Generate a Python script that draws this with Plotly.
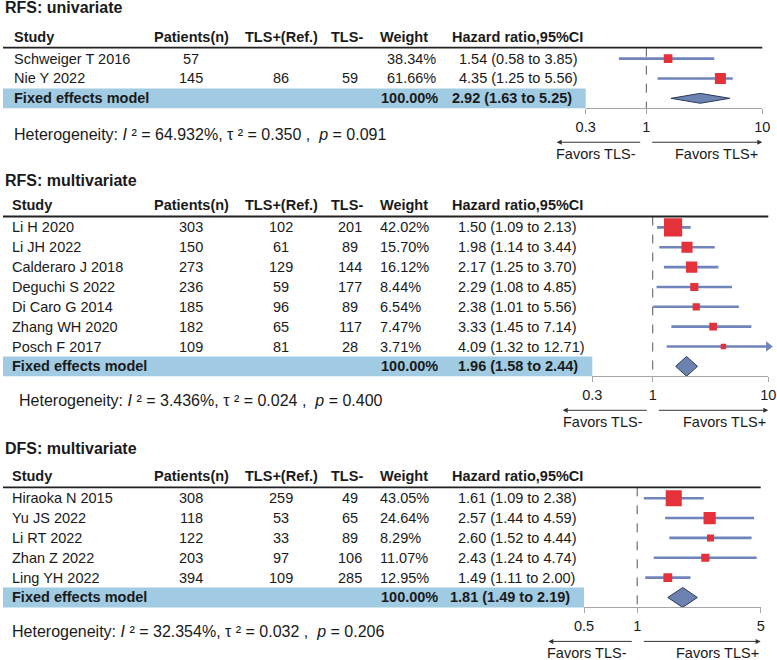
"""Forest plots of TLS and survival, three panels on one page."""

import math

import plotly.graph_objects as go

W, HGT = 777, 660
FONT = "Liberation Sans, Arial, sans-serif"
INK = "#1a1a1a"
BAND = "#a0cbe2"
SQUARE = "#e4313a"
CI_LINE = "#6f84ba"
DIAMOND = "#6c82b1"
AXIS_GREY = "#a6a6a6"
ROW_H = 19.85

# ---- RFS: univariate ----
UNI_STUDY = ["Schweiger T 2016", "Nie Y 2022"]
UNI_PATIENTS = ["57", "145"]
UNI_TLS_POS = ["", "86"]
UNI_TLS_NEG = ["", "59"]
UNI_WEIGHT = [38.34, 61.66]
UNI_HR = [1.54, 4.35]
UNI_LO = [0.58, 1.25]
UNI_HI = [3.85, 5.56]
UNI_FIXED = [2.92, 1.63, 5.25]
UNI_HET = ["64.932%", "0.350", "0.091"]
UNI_TICKS = [0.3, 1, 10]

# ---- RFS: multivariate ----
MULTI_STUDY = ["Li H 2020", "Li JH 2022", "Calderaro J 2018", "Deguchi S 2022",
               "Di Caro G 2014", "Zhang WH 2020", "Posch F 2017"]
MULTI_PATIENTS = ["303", "150", "273", "236", "185", "182", "109"]
MULTI_TLS_POS = ["102", "61", "129", "59", "96", "65", "81"]
MULTI_TLS_NEG = ["201", "89", "144", "177", "89", "117", "28"]
MULTI_WEIGHT = [42.02, 15.70, 16.12, 8.44, 6.54, 7.47, 3.71]
MULTI_HR = [1.50, 1.98, 2.17, 2.29, 2.38, 3.33, 4.09]
MULTI_LO = [1.09, 1.14, 1.25, 1.08, 1.01, 1.45, 1.32]
MULTI_HI = [2.13, 3.44, 3.70, 4.85, 5.56, 7.14, 12.71]
MULTI_FIXED = [1.96, 1.58, 2.44]
MULTI_HET = ["3.436%", "0.024", "0.400"]
MULTI_TICKS = [0.3, 1, 10]

# ---- DFS: multivariate ----
DFS_STUDY = ["Hiraoka N 2015", "Yu JS 2022", "Li RT 2022", "Zhan Z 2022", "Ling YH 2022"]
DFS_PATIENTS = ["308", "118", "122", "203", "394"]
DFS_TLS_POS = ["259", "53", "33", "97", "109"]
DFS_TLS_NEG = ["49", "65", "89", "106", "285"]
DFS_WEIGHT = [43.05, 24.64, 8.29, 11.07, 12.95]
DFS_HR = [1.61, 2.57, 2.60, 2.43, 1.49]
DFS_LO = [1.09, 1.44, 1.52, 1.24, 1.11]
DFS_HI = [2.38, 4.59, 4.44, 4.74, 2.00]
DFS_FIXED = [1.81, 1.49, 2.19]
DFS_HET = ["32.354%", "0.032", "0.206"]
DFS_TICKS = [0.5, 1, 5]

PANELS = [
    dict(title="RFS: univariate", study=UNI_STUDY, patients=UNI_PATIENTS,
         pos=UNI_TLS_POS, neg=UNI_TLS_NEG, weight=UNI_WEIGHT, hr=UNI_HR,
         lo=UNI_LO, hi=UNI_HI, fixed=UNI_FIXED, het=UNI_HET, ticks=UNI_TICKS,
         # layout
         title_y=7, header=47.7, x0=585.7, x1=762.3, sq=1.4, dh=0.25,
         study_x=11.5, weight_center=411, hr_x=457, hr_bold_x=450, het_x=11.7, het_dy=26.7,
         arrows=[556.7, 641.7, 650.7, 762.3], favors=[595.7, 716.7]),
    dict(title="RFS: multivariate", study=MULTI_STUDY, patients=MULTI_PATIENTS,
         pos=MULTI_TLS_POS, neg=MULTI_TLS_NEG, weight=MULTI_WEIGHT, hr=MULTI_HR,
         lo=MULTI_LO, hi=MULTI_HI, fixed=MULTI_FIXED, het=MULTI_HET, ticks=MULTI_TICKS,
         title_y=180.7, header=216.5, x0=592.3, x1=768.3, sq=2.8, dh=0.5,
         study_x=9.5, weight_center=None, hr_x=456, hr_bold_x=456, het_x=16.7, het_dy=24.7,
         arrows=[562.7, 648.3, 657.3, 768.3], favors=[603, 724]),
    dict(title="DFS: multivariate", study=DFS_STUDY, patients=DFS_PATIENTS,
         pos=DFS_TLS_POS, neg=DFS_TLS_NEG, weight=DFS_WEIGHT, hr=DFS_HR,
         lo=DFS_LO, hi=DFS_HI, fixed=DFS_FIXED, het=DFS_HET, ticks=DFS_TICKS,
         title_y=448.3, header=487.3, x0=584, x1=760.7, sq=2.45, dh=0.5,
         study_x=9.5, weight_center=None, hr_x=456, hr_bold_x=448, het_x=10, het_dy=24.4,
         arrows=[548.3, 633.3, 642.3, 760.7], favors=[587, 717.3]),
]


def px(x):
    return x / W


def py(y):
    return 1 - y / HGT


def text(fig, x, y, s, anchor="left", size=14.5, bold=False):
    if bold:
        s = f"<b>{s}</b>"
    fig.add_annotation(x=px(x), y=py(y), xref="paper", yref="paper", text=s,
                       showarrow=False, xanchor=anchor, yanchor="middle",
                       font=dict(family=FONT, size=size, color=INK))


def arrow(fig, head, tail, y):
    fig.add_annotation(x=px(head), y=py(y), xref="paper", yref="paper", text="",
                       showarrow=True, ax=tail - head, ay=0, arrowhead=2,
                       arrowsize=1, arrowwidth=1, arrowcolor="#333")


fig = go.Figure()

for k, p in enumerate(PANELS, start=2):
    n = len(p["study"])
    H = p["header"]
    row_y = lambda i: H + (i + 0.55) * ROW_H
    axis_y = H + (n + 1.05) * ROW_H
    xa, ya = f"x{k}", f"y{k}"
    lo_t, hi_t = p["ticks"][0], p["ticks"][-1]

    # table
    text(fig, 3.3, p["title_y"], p["title"], size=16, bold=True)
    hy = H - 11
    text(fig, p["study_x"], hy, "Study", bold=True)
    text(fig, 191, hy, "Patients(n)", "center", bold=True)
    text(fig, 281, hy, "TLS+(Ref.)", "center", bold=True)
    text(fig, 347, hy, "TLS-", "center", bold=True)
    text(fig, 378, hy, "Weight", bold=True)
    text(fig, 450, hy, "Hazard ratio,95%CI", bold=True)
    fig.add_shape(type="line", xref="paper", yref="paper", x0=px(3), x1=px(p["x1"]),
                  y0=py(H), y1=py(H), line=dict(color="#222", width=1.8))
    fig.add_shape(type="rect", xref="paper", yref="paper", x0=px(3), x1=px(p["x0"]),
                  y0=py(row_y(n) - ROW_H / 2), y1=py(axis_y),
                  fillcolor=BAND, line=dict(width=0), layer="below")

    for i in range(n):
        y = row_y(i)
        text(fig, p["study_x"], y, p["study"][i])
        text(fig, 191, y, p["patients"][i], "center")
        text(fig, 281, y, p["pos"][i], "center")
        text(fig, 350, y, p["neg"][i], "center")
        w = f"{p['weight'][i]:.2f}%"
        if p["weight_center"]:
            text(fig, p["weight_center"], y, w, "center")
        else:
            text(fig, 378, y, w)
        text(fig, p["hr_x"], y, f"{p['hr'][i]:.2f} ({p['lo'][i]:.2f} to {p['hi'][i]:.2f})")

    fy = row_y(n)
    est, flo, fhi = p["fixed"]
    text(fig, p["study_x"], fy, "Fixed effects model", bold=True)
    text(fig, 379, fy, "100.00%", bold=True)
    text(fig, p["hr_bold_x"], fy, f"{est:.2f} ({flo:.2f} to {fhi:.2f})", bold=True)

    i2, t2, pv = p["het"]
    text(fig, p["het_x"], axis_y + p["het_dy"],
         f"Heterogeneity: <i>I</i> ² = {i2}, τ ² = {t2} ,\u00a0 <i>p</i> = {pv}", size=16)

    # favours arrows
    a = p["arrows"]
    arrow(fig, a[0], a[1], axis_y + 34)
    arrow(fig, a[3], a[2], axis_y + 34)
    text(fig, p["favors"][0], axis_y + 45.5, "Favors TLS-", "center")
    text(fig, p["favors"][1], axis_y + 45.5, "Favors TLS+", "center")

    # forest
    fig.add_trace(go.Scatter(x=[1, 1], y=[-0.55, n + 0.5], mode="lines",
                             line=dict(color="#555", width=1, dash="dash"),
                             xaxis=xa, yaxis=ya, hoverinfo="skip"))
    for i in range(n):
        fig.add_trace(go.Scatter(x=[p["lo"][i], p["hi"][i]], y=[i, i], mode="lines",
                                 line=dict(color=CI_LINE, width=2.6),
                                 xaxis=xa, yaxis=ya, hoverinfo="skip"))
        if p["hi"][i] > hi_t:
            fig.add_trace(go.Scatter(x=[hi_t], y=[i], mode="markers", cliponaxis=False,
                                     marker=dict(symbol="triangle-right", size=9, color=CI_LINE),
                                     xaxis=xa, yaxis=ya, hoverinfo="skip"))
    fig.add_trace(go.Scatter(
        x=p["hr"], y=list(range(n)), mode="markers",
        marker=dict(symbol="square", color=SQUARE, opacity=1, line=dict(width=0),
                    size=[p["sq"] * math.sqrt(w) for w in p["weight"]]),
        xaxis=xa, yaxis=ya))
    dh = p["dh"]
    fig.add_trace(go.Scatter(x=[flo, est, fhi, est, flo], y=[n, n - dh, n, n + dh, n],
                             mode="lines", fill="toself", fillcolor=DIAMOND,
                             line=dict(color="#2c3a56", width=1),
                             xaxis=xa, yaxis=ya, hoverinfo="skip"))

    fig.update_layout({
        f"xaxis{k}": dict(type="log", domain=[px(p["x0"]), px(p["x1"])], anchor=ya,
                          range=[math.log10(lo_t), math.log10(hi_t)], automargin=False,
                          tickvals=p["ticks"], ticktext=[f"{t:g}" for t in p["ticks"]],
                          showgrid=False, zeroline=False, showline=True,
                          linecolor=AXIS_GREY, linewidth=1, ticks="outside",
                          ticklen=5, tickcolor=AXIS_GREY,
                          tickfont=dict(family=FONT, size=14.5, color=INK)),
        f"yaxis{k}": dict(domain=[py(axis_y), py(H)], anchor=xa, automargin=False,
                          range=[n + 0.5, -0.55], visible=False),
    })

fig.update_layout(
    width=W, height=HGT, autosize=False,
    margin=dict(l=0, r=0, t=0, b=0, pad=0, autoexpand=False),
    paper_bgcolor="white",
    plot_bgcolor="rgba(0,0,0,0)",
    showlegend=False,
)

# the page's default body margin would push the figure 8px down and right
fig.write_html("out.html", config={"displayModeBar": False},
               post_script="document.body.style.margin = '0px';")
